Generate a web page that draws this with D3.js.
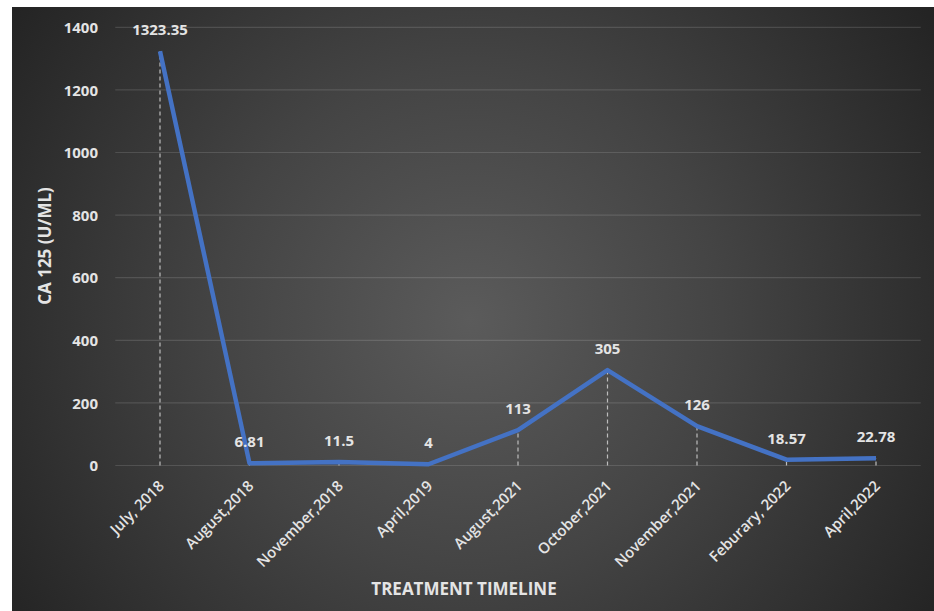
<!DOCTYPE html>
<html><head><meta charset="utf-8">
<script src="https://cdn.jsdelivr.net/npm/d3@7"></script>
<style>html,body{margin:0;padding:0;background:#fff;}svg{display:block;}</style>
</head><body>
<svg id="chart" width="934" height="611"></svg>
<script>
const categories = ["July, 2018","August,2018","November,2018","April,2019","August,2021","October,2021","November,2021","Feburary, 2022","April,2022"];
const values = [1323.35, 6.81, 11.5, 4, 113, 305, 126, 18.57, 22.78];
const labels = ["1323.35","6.81","11.5","4","113","305","126","18.57","22.78"];
const yTicks = [0,200,400,600,800,1000,1200,1400];

const W = 934, H = 611;
const svg = d3.select("#chart");
const font = "'Open Sans', 'Noto Sans', sans-serif";

const defs = svg.append("defs");
const grad = defs.append("radialGradient").attr("id","bg")
  .attr("gradientUnits","userSpaceOnUse")
  .attr("cx",470).attr("cy",320).attr("r",560);
grad.append("stop").attr("offset","0%").attr("stop-color","#5b5b5b");
grad.append("stop").attr("offset","45%").attr("stop-color","#444444");
grad.append("stop").attr("offset","100%").attr("stop-color","#232323");

svg.append("rect").attr("x",12).attr("y",7).attr("width",W-12).attr("height",H-7).attr("fill","url(#bg)");

const x = d3.scaleBand().domain(categories).range([115.25, 920.75]);
const y = d3.scaleLinear().domain([0,1400]).range([465.5, 27.3]);
const cx = d => x(d) + x.bandwidth()/2;

// gridlines
svg.append("g").selectAll("line").data(yTicks).join("line")
  .attr("x1",115.25).attr("x2",920.75)
  .attr("y1",d=>y(d)).attr("y2",d=>y(d))
  .attr("stroke","#ffffff").attr("stroke-opacity",0.13).attr("stroke-width",1.2);

// y axis labels
const yAxis = d3.axisLeft(y).tickValues(yTicks).tickSize(0).tickPadding(0).tickFormat(d3.format("d"));
const gy = svg.append("g").attr("transform","translate(98,0)").call(yAxis);
gy.select(".domain").remove();
gy.selectAll("text").attr("fill","#e4e4e4").attr("font-family",font).attr("font-weight",700).attr("font-size",15).attr("dy","0.35em");

// x axis labels
const gx = svg.append("g");
gx.selectAll("text").data(categories).join("text")
  .attr("transform",d=>`translate(${cx(d)+5},${487}) rotate(-45)`)
  .attr("text-anchor","end")
  .attr("fill","#e4e4e4").attr("font-family",font).attr("font-weight",600).attr("font-size",15)
  .text(d=>d);

// drop lines
const data = categories.map((c,i)=>({c, v: values[i], l: labels[i]}));
svg.append("g").selectAll("line").data(data).join("line")
  .attr("x1",d=>cx(d.c)).attr("x2",d=>cx(d.c))
  .attr("y1",y(0)).attr("y2",d=>y(d.v))
  .attr("stroke","#bdbdbd").attr("stroke-width",1.2).attr("stroke-dasharray","4,3");

// line
const line = d3.line().x(d=>cx(d.c)).y(d=>y(d.v));
svg.append("path").datum(data).attr("d",line)
  .attr("fill","none").attr("stroke","#4472C4").attr("stroke-width",4.5)
  .attr("stroke-linejoin","round").attr("stroke-linecap","butt");

// data labels
svg.append("g").selectAll("text").data(data).join("text")
  .attr("x",d=>cx(d.c)).attr("y",d=>y(d.v)-16)
  .attr("text-anchor","middle")
  .attr("fill","#e4e4e4").attr("font-family",font).attr("font-weight",700).attr("font-size",15)
  .text(d=>d.l);

// axis titles
svg.append("text").attr("transform","translate(51,246) rotate(-90)")
  .attr("text-anchor","middle")
  .attr("fill","#e4e4e4").attr("font-family",font).attr("font-weight",700).attr("font-size",17)
  .text("CA 125 (U/ML)");
svg.append("text").attr("x",464).attr("y",595)
  .attr("text-anchor","middle")
  .attr("fill","#e4e4e4").attr("font-family",font).attr("font-weight",700).attr("font-size",17)
  .text("TREATMENT TIMELINE");
</script>
</body></html>
